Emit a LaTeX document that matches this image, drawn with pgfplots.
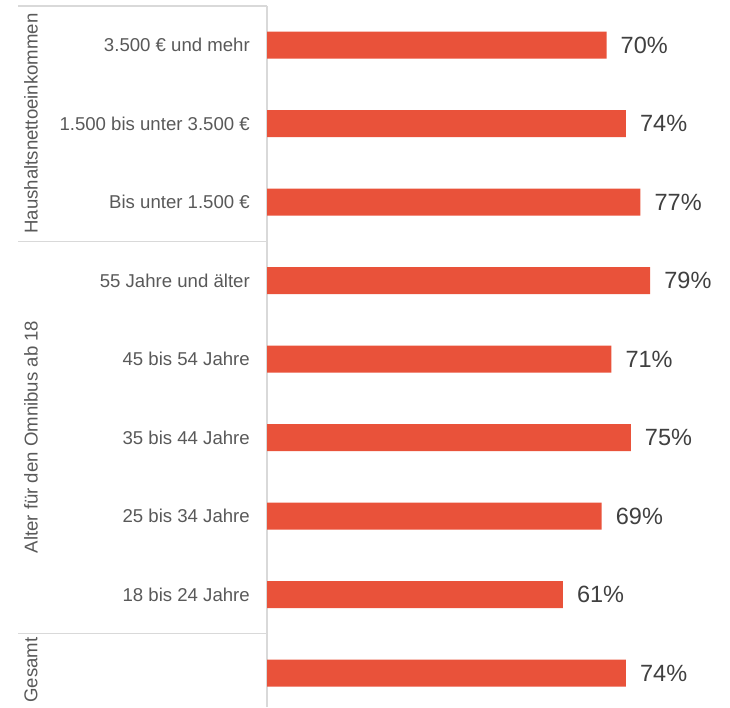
\documentclass[border=0pt]{standalone}
\usepackage{pgfplots}
\pgfplotsset{compat=1.18}
\usepackage{fontspec}
\setmainfont{Liberation Sans}
\definecolor{barred}{RGB}{233,82,58}
\definecolor{ticktext}{RGB}{89,89,89}
\definecolor{valtext}{RGB}{64,64,64}
\definecolor{sepc}{RGB}{217,217,217}
\begin{document}
\begin{tikzpicture}[x=1pt,y=1pt]
\useasboundingbox (0,0) rectangle (730,707);
\begin{axis}[
 at={(267pt,0pt)}, anchor=south west,
 scale only axis, width=463pt, height=701pt,
 xmin=0, xmax=95.46, ymin=-0.433, ymax=8.497,
 xbar, bar width=27pt,
 clip=false,
 hide x axis,
 axis y line*=left,
 y axis line style={draw=sepc, line width=1.2pt, -},
 ytick={0,...,8},
 yticklabels={{},18 bis 24 Jahre,25 bis 34 Jahre,35 bis 44 Jahre,45 bis 54 Jahre,55 Jahre und älter,Bis unter 1.500 €,1.500 bis unter 3.500 €,3.500 € und mehr},
 major tick length=0pt,
 ytick style={draw=none},
 yticklabel style={font=\fontsize{18.6}{20}\selectfont, text=ticktext, inner sep=0pt, anchor=east, xshift=-17pt},
 point meta=x,
 nodes near coords={\pgfmathprintnumber[assume math mode=true]{\pgfplotspointmeta}\%},
 nodes near coords style={anchor=west, inner sep=0pt, xshift=14pt, font=\fontsize{23.5}{25}\selectfont, text=valtext},
]
\addplot[fill=barred, draw=none] coordinates {(74,0) (61,1) (69,2) (75,3) (71,4) (79,5) (77,6) (74,7) (70,8)};
\end{axis}
\draw[sepc, line width=1.2pt] (18,701) -- (267,701);
\draw[sepc, line width=1.2pt] (18,465.7) -- (267,465.7);
\draw[sepc, line width=1.2pt] (18,73.2) -- (267,73.2);
\node[rotate=90, font=\fontsize{18.6}{20}\selectfont, text=ticktext, inner sep=0pt] at (31,583.5) {Haushaltsnettoeinkommen};
\node[rotate=90, font=\fontsize{18.6}{20}\selectfont, text=ticktext, inner sep=0pt] at (31,270) {Alter für den Omnibus ab 18};
\node[rotate=90, font=\fontsize{18.6}{20}\selectfont, text=ticktext, inner sep=0pt] at (31,37) {Gesamt};
\end{tikzpicture}
\end{document}
